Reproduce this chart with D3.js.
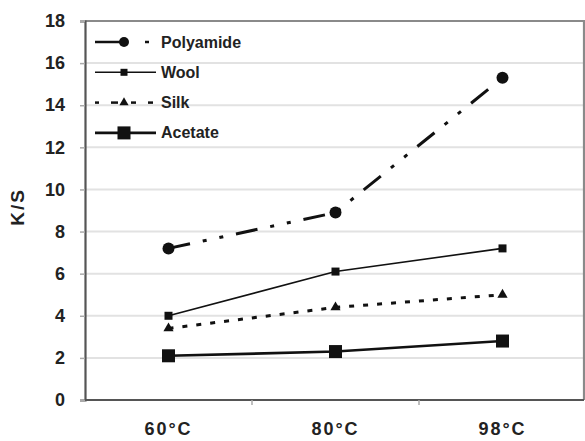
<!DOCTYPE html>
<html><head><meta charset="utf-8">
<script src="https://cdn.jsdelivr.net/npm/d3@7"></script>
<style>body{margin:0;background:#fff}svg{display:block}</style>
</head><body><svg id="c" width="585" height="441"></svg>
<script>
const categories = ["60°C", "80°C", "98°C"];
const polyamide = [7.2, 8.9, 15.3];
const wool = [4.0, 6.1, 7.2];
const silk = [3.4, 4.4, 5.0];
const acetate = [2.1, 2.3, 2.8];
const yTicks = [0, 2, 4, 6, 8, 10, 12, 14, 16, 18];
const seriesNames = ["Polyamide", "Wool", "Silk", "Acetate"];

const series = [
  {name: seriesNames[0], values: polyamide, dash: "22,13,4,13,4,13", width: 3, marker: "circle", size: 12},
  {name: seriesNames[1], values: wool, dash: null, width: 1.6, marker: "square", size: 8},
  {name: seriesNames[2], values: silk, dash: "5,9", width: 3, marker: "triangle", size: 10},
  {name: seriesNames[3], values: acetate, dash: null, width: 2.6, marker: "square", size: 13}
];

const svg = d3.select("#c");
const L = 85, R = 584, T = 21, B = 400;
const x = d3.scaleBand().domain(categories).range([L, R+2]);
const y = d3.scaleLinear().domain([0, 18]).range([B, T]);
const font = "Arial, 'Liberation Sans', sans-serif";

// grid
svg.append("g").selectAll("line").data(yTicks.filter(d => d > 0 && d < 18)).join("line")
  .attr("x1", L).attr("x2", R).attr("y1", d => y(d)).attr("y2", d => y(d))
  .attr("stroke", "#e2e2e2").attr("stroke-width", 2);

// frame top/right
svg.append("path").attr("d", `M${L},${T}H${R}V${B}`).attr("fill", "none")
  .attr("stroke", "#8a8a8a").attr("stroke-width", 2.2);

// y axis
const ya = svg.append("g").attr("transform", `translate(${L},0)`)
  .call(d3.axisLeft(y).tickValues(yTicks).tickSize(5).tickPadding(15));
ya.select(".domain").attr("stroke", "#555").attr("stroke-width", 2.2);
ya.selectAll(".tick line").attr("stroke", "#aaa").attr("stroke-width", 1.5);
ya.selectAll("text").attr("font-family", font).attr("font-size", 18).attr("fill", "#222").attr("font-weight", "bold");

// x axis
const xa = svg.append("g").attr("transform", `translate(0,${B})`)
  .call(d3.axisBottom(x).tickSize(0).tickPadding(22));
xa.select(".domain").attr("stroke", "#555").attr("stroke-width", 2.2).attr("d", `M${L},0H${R}`);
xa.selectAll("text").attr("font-family", font).attr("font-size", 18).attr("fill", "#222")
  .attr("font-weight", "bold").attr("letter-spacing", 2);
svg.append("g").selectAll("line").data(categories.slice(0, 2)).join("line")
  .attr("x1", d => x(d) + x.bandwidth()).attr("x2", d => x(d) + x.bandwidth())
  .attr("y1", B).attr("y2", B + 5).attr("stroke", "#aaa").attr("stroke-width", 1.5);

svg.append("text").attr("transform", `translate(24,${207}) rotate(-90)`)
  .attr("text-anchor", "middle").attr("font-family", font).attr("font-size", 19)
  .attr("font-weight", "bold").attr("letter-spacing", 2).attr("fill", "#222").text("K/S");

function drawMarker(g, type, size) {
  if (type === "circle") g.append("circle").attr("r", size/2).attr("fill", "#111");
  else if (type === "square") g.append("rect").attr("x", -size/2).attr("y", -size/2).attr("width", size).attr("height", size).attr("fill", "#111");
  else g.append("path").attr("d", d3.symbol(d3.symbolTriangle, size*size*0.45)()).attr("fill", "#111");
}

const line = d3.line().x((d, i) => x(categories[i]) + x.bandwidth()/2).y(d => y(d));
series.forEach(s => {
  svg.append("path").attr("d", line(s.values)).attr("fill", "none")
    .attr("stroke", "#111").attr("stroke-width", s.width)
    .attr("stroke-dasharray", s.dash).attr("stroke-linecap", "butt");
  s.values.forEach((v, i) => {
    const g = svg.append("g").attr("transform", `translate(${x(categories[i]) + x.bandwidth()/2},${y(v)})`);
    drawMarker(g, s.marker, s.size);
  });
});

// legend
const leg = svg.append("g");
series.forEach((s, i) => {
  const yy = 42 + i * 30.3;
  const g = leg.append("g").attr("transform", `translate(0,${yy})`);
  if (s.name === "Polyamide") {
    g.append("line").attr("x1", 95).attr("x2", 125).attr("stroke", "#111").attr("stroke-width", 2.5);
    g.append("line").attr("x1", 145).attr("x2", 149).attr("stroke", "#111").attr("stroke-width", 2.5);
  } else if (s.name === "Silk") {
    [[95,99],[111,118],[131,136],[148,153]].forEach(p => g.append("line").attr("x1", p[0]).attr("x2", p[1]).attr("stroke", "#111").attr("stroke-width", 2.5));
  } else {
    g.append("line").attr("x1", 95).attr("x2", 156).attr("stroke", "#111").attr("stroke-width", s.width);
  }
  const m = g.append("g").attr("transform", `translate(124,0)`);
  drawMarker(m, s.marker, s.name === "Polyamide" ? 10 : (s.name === "Acetate" ? 13 : s.size - 1));
  g.append("text").attr("x", 161).attr("y", 5.5).attr("font-family", font).attr("font-size", 16)
    .attr("font-weight", "bold").attr("fill", "#222").text(s.name);
});
</script></body></html>
